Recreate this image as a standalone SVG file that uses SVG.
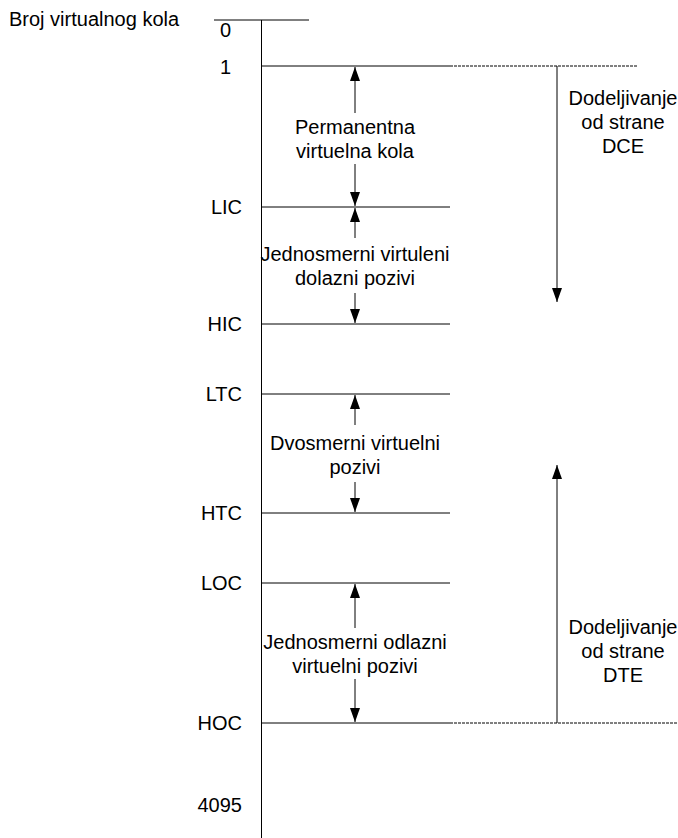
<svg xmlns="http://www.w3.org/2000/svg" width="678" height="838" viewBox="0 0 678 838">
<style>
text{font-family:"Liberation Sans",Arial,sans-serif;font-size:20px;fill:#000}
.c{text-anchor:middle}
.r{text-anchor:end}
.ln{stroke:#000;stroke-width:1;fill:none}
.d{stroke:#000;stroke-width:1;stroke-dasharray:3,1;fill:none}
.a{stroke:#000;stroke-width:1;fill:none}
</style>
<defs>
<marker id="ah" markerWidth="14" markerHeight="10" refX="14" refY="5" orient="auto" markerUnits="userSpaceOnUse" viewBox="0 0 14 10">
<path d="M0,0 L14,5 L0,10 Z" fill="#000"/>
</marker>
</defs>
<text x="9" y="26">Broj virtualnog kola</text>
<g id="axis">
<line class="ln" x1="261.5" y1="20" x2="261.5" y2="838"/>
<line class="ln" x1="214" y1="20" x2="309" y2="20"/>
</g>
<g id="labels">
<text x="231" y="37" class="r">0</text>
<text x="231" y="74" class="r">1</text>
<text x="242" y="214" class="r">LIC</text>
<text x="242" y="331" class="r">HIC</text>
<text x="242" y="401" class="r">LTC</text>
<text x="242" y="520" class="r">HTC</text>
<text x="242" y="590" class="r">LOC</text>
<text x="242" y="730" class="r">HOC</text>
<text x="242" y="812" class="r">4095</text>
</g>
<g id="levels">
<line class="ln" x1="261" y1="66" x2="450" y2="66"/>
<line class="d" x1="450" y1="66" x2="638" y2="66"/>
<line class="ln" x1="261" y1="207" x2="450" y2="207"/>
<line class="ln" x1="261" y1="324" x2="450" y2="324"/>
<line class="ln" x1="261" y1="394" x2="450" y2="394"/>
<line class="ln" x1="261" y1="513" x2="450" y2="513"/>
<line class="ln" x1="261" y1="583" x2="450" y2="583"/>
<line class="ln" x1="261" y1="723" x2="450" y2="723"/>
<line class="d" x1="450" y1="723" x2="678" y2="723"/>
</g>
<g id="n-permanent">
<text x="355" y="134" class="c">Permanentna</text>
<text x="355" y="158" class="c">virtuelna kola</text>
</g>
<g id="n-incoming">
<text x="355" y="261" class="c">Jednosmerni virtuleni</text>
<text x="355" y="285" class="c">dolazni pozivi</text>
</g>
<g id="n-twoway">
<text x="355" y="450" class="c">Dvosmerni virtuelni</text>
<text x="355" y="474" class="c">pozivi</text>
</g>
<g id="n-outgoing">
<text x="355" y="649" class="c">Jednosmerni odlazni</text>
<text x="355" y="673" class="c">virtuelni pozivi</text>
</g>
<g id="n-dce">
<text x="623" y="105" class="c">Dodeljivanje</text>
<text x="623" y="129" class="c">od strane</text>
<text x="623" y="153" class="c">DCE</text>
</g>
<g id="n-dte">
<text x="623" y="634" class="c">Dodeljivanje</text>
<text x="623" y="658" class="c">od strane</text>
<text x="623" y="682" class="c">DTE</text>
</g>
<g id="connectors">
<line class="a" x1="355" y1="113" x2="355" y2="67" marker-end="url(#ah)"/>
<line class="a" x1="355" y1="164" x2="355" y2="206" marker-end="url(#ah)"/>
<line class="a" x1="355" y1="238" x2="355" y2="208" marker-end="url(#ah)"/>
<line class="a" x1="355" y1="293" x2="355" y2="323" marker-end="url(#ah)"/>
<line class="a" x1="355" y1="425" x2="355" y2="395" marker-end="url(#ah)"/>
<line class="a" x1="355" y1="482" x2="355" y2="512" marker-end="url(#ah)"/>
<line class="a" x1="355" y1="628" x2="355" y2="584" marker-end="url(#ah)"/>
<line class="a" x1="355" y1="679" x2="355" y2="722" marker-end="url(#ah)"/>
<line class="a" x1="557" y1="66" x2="557" y2="302" marker-end="url(#ah)"/>
<line class="a" x1="557" y1="723" x2="557" y2="465" marker-end="url(#ah)"/>
</g>
</svg>
